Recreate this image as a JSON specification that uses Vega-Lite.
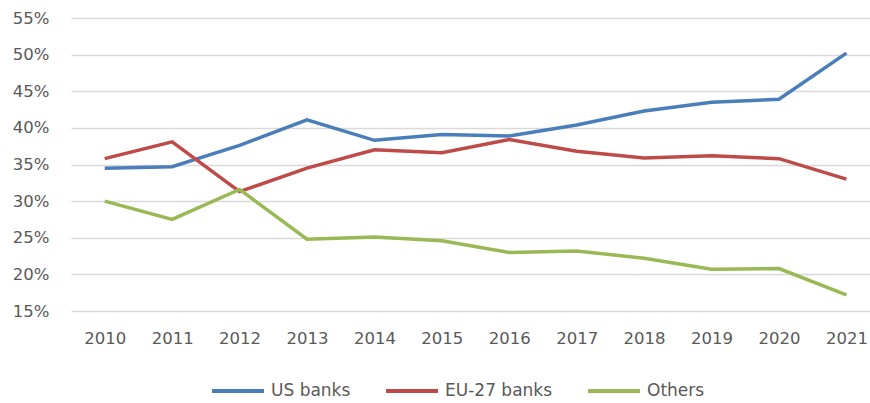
{
  "$schema": "https://vega.github.io/schema/vega-lite/v6.json",
  "autosize": "none",
  "width": 799,
  "height": 293,
  "padding": {"left": 71, "top": 18, "right": 0, "bottom": 92},
  "background": "white",
  "config": {"view": {"stroke": null}, "font": "DejaVu Sans"},
  "data": {"values": [
    {"year": 2010, "series": "US banks", "v": 34.5},
    {"year": 2011, "series": "US banks", "v": 34.7},
    {"year": 2012, "series": "US banks", "v": 37.6},
    {"year": 2013, "series": "US banks", "v": 41.1},
    {"year": 2014, "series": "US banks", "v": 38.3},
    {"year": 2015, "series": "US banks", "v": 39.1},
    {"year": 2016, "series": "US banks", "v": 38.9},
    {"year": 2017, "series": "US banks", "v": 40.4},
    {"year": 2018, "series": "US banks", "v": 42.3},
    {"year": 2019, "series": "US banks", "v": 43.5},
    {"year": 2020, "series": "US banks", "v": 43.9},
    {"year": 2021, "series": "US banks", "v": 50.2},
    {"year": 2010, "series": "EU-27 banks", "v": 35.8},
    {"year": 2011, "series": "EU-27 banks", "v": 38.1},
    {"year": 2012, "series": "EU-27 banks", "v": 31.3},
    {"year": 2013, "series": "EU-27 banks", "v": 34.5},
    {"year": 2014, "series": "EU-27 banks", "v": 37.0},
    {"year": 2015, "series": "EU-27 banks", "v": 36.6},
    {"year": 2016, "series": "EU-27 banks", "v": 38.4},
    {"year": 2017, "series": "EU-27 banks", "v": 36.8},
    {"year": 2018, "series": "EU-27 banks", "v": 35.9},
    {"year": 2019, "series": "EU-27 banks", "v": 36.2},
    {"year": 2020, "series": "EU-27 banks", "v": 35.8},
    {"year": 2021, "series": "EU-27 banks", "v": 33.0},
    {"year": 2010, "series": "Others", "v": 30.0},
    {"year": 2011, "series": "Others", "v": 27.5},
    {"year": 2012, "series": "Others", "v": 31.6},
    {"year": 2013, "series": "Others", "v": 24.8},
    {"year": 2014, "series": "Others", "v": 25.1},
    {"year": 2015, "series": "Others", "v": 24.6},
    {"year": 2016, "series": "Others", "v": 23.0},
    {"year": 2017, "series": "Others", "v": 23.2},
    {"year": 2018, "series": "Others", "v": 22.2},
    {"year": 2019, "series": "Others", "v": 20.7},
    {"year": 2020, "series": "Others", "v": 20.8},
    {"year": 2021, "series": "Others", "v": 17.2}
  ]},
  "mark": {"type": "line", "strokeWidth": 3.5, "strokeJoin": "miter"},
  "encoding": {
    "x": {
      "field": "year", "type": "quantitative",
      "scale": {"domain": [2009.5, 2021.35], "nice": false, "zero": false},
      "axis": {
        "title": null, "values": [2010,2011,2012,2013,2014,2015,2016,2017,2018,2019,2020,2021],
        "format": "d", "grid": false, "domain": false, "ticks": false,
        "labelPadding": 19, "labelFontSize": 16.5, "labelColor": "#595959", "labelFlush": false
      }
    },
    "y": {
      "field": "v", "type": "quantitative",
      "scale": {"domain": [15, 55], "nice": false, "zero": false},
      "axis": {
        "title": null, "values": [15,20,25,30,35,40,45,50,55],
        "labelExpr": "datum.value + '%'", "domain": false, "ticks": false,
        "grid": true, "gridColor": "#d9d9d9", "gridWidth": 1.5,
        "labelPadding": 22, "labelFontSize": 16.5, "labelColor": "#595959"
      }
    },
    "color": {
      "field": "series", "type": "nominal",
      "scale": {"domain": ["US banks", "EU-27 banks", "Others"], "range": ["#4A7EBB", "#BE4B48", "#98B954"]},
      "legend": {
        "title": null, "orient": "none", "legendX": 139, "legendY": 345,
        "direction": "horizontal", "symbolType": "stroke", "symbolSize": 2704,
        "symbolStrokeWidth": 4, "labelFontSize": 17, "labelColor": "#595959",
        "columnPadding": 27, "labelOffset": 5
      }
    }
  }
}
